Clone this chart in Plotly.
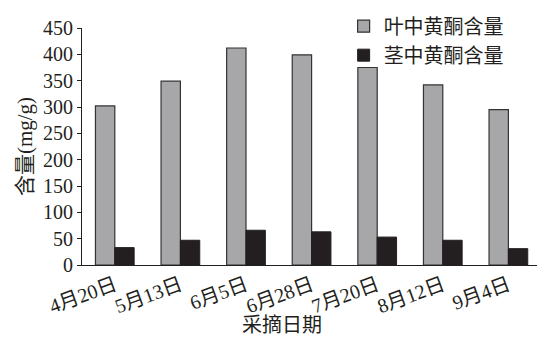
import plotly.graph_objects as go

# 采摘日期与黄酮含量 (mg/g)
dates = ["4月20日", "5月13日", "6月5日", "6月28日", "7月20日", "8月12日", "9月4日"]
leaf_flavone = [302, 349, 412, 399, 375, 342, 295]
stem_flavone = [33, 47, 66, 63, 53, 47, 31]
y_ticks = [0, 50, 100, 150, 200, 250, 300, 350, 400, 450]

FONT = "Liberation Serif, Times New Roman, Noto Sans CJK SC, serif"

fig = go.Figure()
fig.add_trace(go.Bar(
    x=dates, y=leaf_flavone, name="叶中黄酮含量",
    marker=dict(color="#a7a7aa", line=dict(color="#333333", width=1.2)),
))
fig.add_trace(go.Bar(
    x=dates, y=stem_flavone, name="茎中黄酮含量",
    marker=dict(color="#231f20", line=dict(color="#231f20", width=1)),
))

fig.update_layout(
    width=537, height=340,
    margin=dict(l=82, r=0, t=28, b=75),
    paper_bgcolor="white", plot_bgcolor="white",
    barmode="group", bargap=0.41, bargroupgap=0,
    font=dict(family=FONT, size=20, color="#231f20"),
    showlegend=True,
    legend=dict(
        x=0.575, y=1.09, xanchor="left", yanchor="top",
        font=dict(size=20, family=FONT), bgcolor="rgba(0,0,0,0)",
        tracegroupgap=0, itemwidth=30,
    ),
    xaxis=dict(
        type="category", range=[-0.5, 6.436],
        showline=True, linecolor="#231f20", linewidth=1.2,
        ticks="", tickangle=-20, tickfont=dict(size=20, family=FONT),
        showgrid=False, zeroline=False,
    ),
    yaxis=dict(
        range=[0, 450], tickvals=y_ticks,
        showline=True, linecolor="#231f20", linewidth=1.2,
        ticks="outside", ticklen=4, tickcolor="#231f20",
        tickfont=dict(size=20, family=FONT),
        title=dict(text="含量(mg/g)", font=dict(size=21, family=FONT), standoff=4),
        showgrid=False, zeroline=False,
    ),
    annotations=[dict(
        text="采摘日期", xref="paper", yref="paper",
        x=0.44, y=-0.255, xanchor="center", yanchor="middle",
        showarrow=False, font=dict(size=20, family=FONT),
    )],
)

fig.write_html("out.html")
